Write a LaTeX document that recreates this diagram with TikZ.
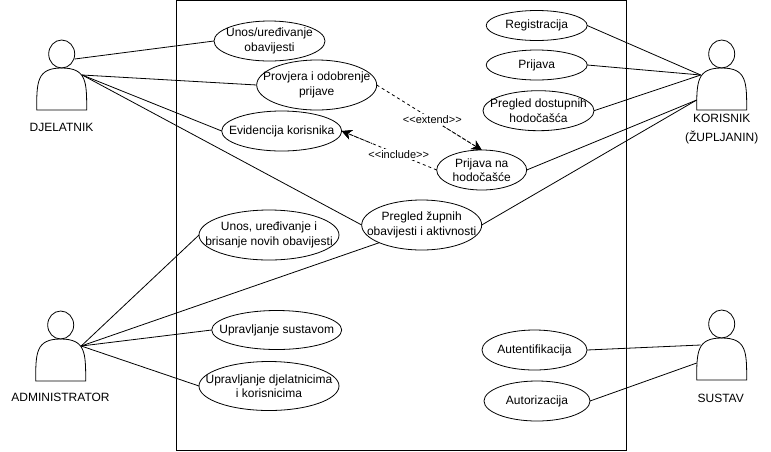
\documentclass[tikz,border=0pt]{standalone}
\usepackage{fontspec}
\setmainfont{Liberation Sans}
\usetikzlibrary{arrows.meta,shapes.geometric}

\begin{document}
\begin{tikzpicture}[
  x=1pt, y=-1pt,
  line width=0.8pt,
  font=\fontsize{12}{14.5}\selectfont,
  usecase/.style={draw, ellipse, align=center, inner sep=-25pt, outer sep=0pt},
  size/.style 2 args={minimum width=#1pt, minimum height=#2pt},
  assoc/.style={draw},
  dep/.style={draw, dash pattern=on 3pt off 3pt, -{Stealth[length=10pt,width=10pt]}},
  depover/.style={dep, dash phase=1.5pt},
  deplabel/.style={fill=white, inner sep=1.5pt, font=\fontsize{11}{12}\selectfont},
  actorlabel/.style={align=center},
  sysbox/.style={draw, minimum width=450pt, minimum height=450pt, outer sep=0pt},
  actor/.pic={
    \draw (0,0) ellipse [x radius=13pt, y radius=14pt];
    \draw (-25,56) .. controls (-25,28) and (-25,14) .. (0,14)
      .. controls (25,14) and (25,28) .. (25,56) -- cycle;
    \coordinate (-head) at (13,5);
    \coordinate (-right) at (20.5,21);
    \coordinate (-left) at (-21,21);
  }
]
\useasboundingbox (0,0) rectangle (771,451);
\node[sysbox] (granica) at (401.7,225) {};

\pic (djelatnik) at (61.7,54) {actor};
\pic (korisnik) at (721.7,54) {actor};
\pic (administrator) at (60.7,325) {actor};
\pic (sustav) at (721.7,324) {actor};
\coordinate (korisnikLow) at (696.7,100);
\coordinate (sustavLow) at (696.7,363);

\node[actorlabel] (djelatnikText) at (61.5,127) {DJELATNIK};
\node[actorlabel] (korisnikText) at (721.7,118) {KORISNIK};
\node[actorlabel] (zupljaninText) at (721.7,137) {(ŽUPLJANIN)};
\node[actorlabel] (administratorText) at (60.5,397) {ADMINISTRATOR};
\node[actorlabel] (sustavText) at (720.7,398) {SUSTAV};

\node[usecase, size={111}{40}] (unos) at (269.5,41) {Unos/uređivanje\\obavijesti};
\node[usecase, size={120}{50}] (provjera) at (316.7,85) {Provjera i odobrenje\\prijave};
\node[usecase, size={120}{40}] (evidencija) at (281.7,131) {Evidencija korisnika};
\node[usecase, size={90}{40}] (hodocasce) at (481.7,170) {Prijava na\\hodočašće};
\node[usecase, size={120}{50}] (pregled) at (421.7,225) {Pregled župnih\\obavijesti i aktivnosti};
\node[usecase, size={140}{50}] (brisanje) at (269,235) {Unos, uređivanje i\\brisanje novih obavijesti};
\node[usecase, size={130}{39}] (upravljanje) at (276.7,330) {Upravljanje sustavom};
\node[usecase, size={140}{49}] (djelatnici) at (269,386) {Upravljanje djelatnicima\\i korisnicima};
\node[usecase, size={101}{30}] (registracija) at (536.7,25.5) {Registracija};
\node[usecase, size={101}{30}] (prijava) at (536.7,65) {Prijava};
\node[usecase, size={111}{40}] (dostupni) at (538.5,110.7) {Pregled dostupnih\\hodočašća};
\node[usecase, size={105}{40}] (autentifikacija) at (534.5,350) {Autentifikacija};
\node[usecase, size={106}{40}] (autorizacija) at (537,401) {Autorizacija};

\draw[assoc] (djelatnik-head) -- (unos.west);
\draw[assoc] (djelatnik-right) -- (provjera.west);
\draw[assoc] (djelatnik-right) -- (evidencija.west);
\draw[assoc] (djelatnik-right) -- (pregled.west);
\draw[assoc] (registracija.east) -- (korisnik-left);
\draw[assoc] (prijava.east) -- (korisnik-left);
\draw[assoc] (dostupni.east) -- (korisnik-left);
\draw[assoc] (hodocasce.east) -- (korisnikLow);
\draw[assoc] (pregled.east) -- (korisnikLow);
\draw[assoc] (administrator-right) -- (brisanje.west);
\draw[assoc] (administrator-right) -- (pregled.south west);
\draw[assoc] (administrator-right) -- (upravljanje.west);
\draw[assoc] (administrator-right) -- (djelatnici.west);
\draw[assoc] (autentifikacija.east) -- (sustav-left);
\draw[assoc] (autorizacija.east) -- (sustavLow);

\draw[dep] (provjera.east) -- node[deplabel, pos=.53] (extendText) {{<}{<}extend{>}{>}} coordinate[pos=.63] (extendBold) (hodocasce.north);
\draw[dep] (hodocasce.west) -- node[deplabel, pos=.40] (includeText) {{<}{<}include{>}{>}} coordinate[pos=.68] (includeBold) (evidencija.east);
\draw[depover] (extendBold) -- (hodocasce.north);
\draw[depover] (includeBold) -- (evidencija.east);
\end{tikzpicture}
\end{document}
